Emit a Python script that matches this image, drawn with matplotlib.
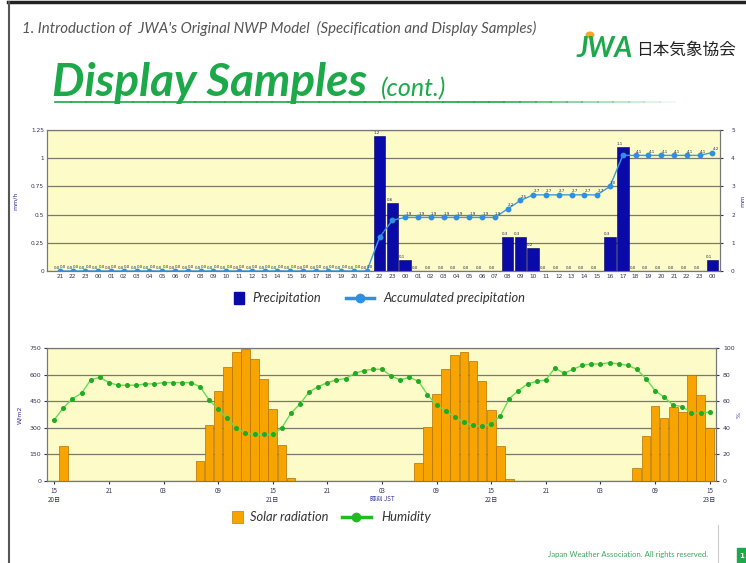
import numpy as np
import matplotlib.pyplot as plt
from matplotlib.patches import Rectangle, Circle
from matplotlib.lines import Line2D

W, H = 746, 563

# --- upper chart: hourly precipitation (mm/h) and accumulated precipitation (mm)
hour_labels = ['21', '22', '23',
               '00', '01', '02', '03', '04', '05', '06', '07', '08', '09', '10', '11',
               '12', '13', '14', '15', '16', '17', '18', '19', '20', '21', '22', '23',
               '00', '01', '02', '03', '04', '05', '06', '07', '08', '09', '10', '11',
               '12', '13', '14', '15', '16', '17', '18', '19', '20', '21', '22', '23',
               '00']
precip = [0.0, 0.0, 0.0, 0.0, 0.0, 0.0, 0.0, 0.0, 0.0, 0.0, 0.0, 0.0, 0.0,
          0.0, 0.0, 0.0, 0.0, 0.0, 0.0, 0.0, 0.0, 0.0, 0.0, 0.0, 0.0,
          1.2, 0.6, 0.1,
          0.0, 0.0, 0.0, 0.0, 0.0, 0.0, 0.0,
          0.3, 0.3, 0.2,
          0.0, 0.0, 0.0, 0.0, 0.0,
          0.3, 1.1,
          0.0, 0.0, 0.0, 0.0, 0.0, 0.0,
          0.1]
accum = [0.0, 0.0, 0.0, 0.0, 0.0, 0.0, 0.0, 0.0, 0.0, 0.0, 0.0, 0.0, 0.0,
         0.0, 0.0, 0.0, 0.0, 0.0, 0.0, 0.0, 0.0, 0.0, 0.0, 0.0, 0.0,
         1.2, 1.8,
         1.9, 1.9, 1.9, 1.9, 1.9, 1.9, 1.9, 1.9,
         2.2, 2.5,
         2.7, 2.7, 2.7, 2.7, 2.7, 2.7,
         3.0,
         4.1, 4.1, 4.1, 4.1, 4.1, 4.1, 4.1,
         4.2]

# --- lower chart: solar radiation (W/m2) and humidity (%) from 15h on the 20th
solar = [0, 200,
         0, 0, 0, 0, 0, 0, 0, 0, 0, 0, 0, 0, 0, 0,
         115, 318, 505, 644, 726, 743, 690, 575, 408, 205, 17,
         0, 0, 0, 0, 0, 0, 0, 0, 0, 0, 0, 0, 0,
         104, 305, 492, 629, 710, 728, 676, 562, 398, 195, 13,
         0, 0, 0, 0, 0, 0, 0, 0, 0, 0, 0, 0, 0,
         75, 256, 422, 357, 419, 389, 600, 486, 299]
humidity = [46, 55, 62, 66, 76, 78, 74, 72, 72, 72, 73, 73, 74, 74, 74, 74,
            71, 61, 54, 47, 40, 36, 35, 35, 35, 40, 51, 58, 67, 71, 74, 76,
            77, 81, 83, 84, 84, 79, 76, 78, 75, 65, 57, 53, 48, 44, 42, 41,
            43, 49, 62, 68, 73, 75, 76, 85, 81, 84, 87, 88, 88, 89, 88, 87,
            84, 77, 68, 63, 57, 56, 51, 51, 52]
time_ticks = [0, 6, 12, 18, 24, 30, 36, 42, 48, 54, 60, 66, 72]
time_labels = ['15\n20日', '21', '03', '09', '15\n21日', '21', '03', '09',
               '15\n22日', '21', '03', '09', '15\n23日']

GREEN = '#1da84a'
PANEL = '#fdfcc9'
GRID = '#7a7a6a'
NAVY = '#0a0aa8'
BLUE = '#2f8fe0'
ORANGE = '#f7a400'
JP = ['Noto Sans CJK JP', 'DejaVu Sans']
LEG = {'family': 'Lato', 'style': 'italic', 'size': 9.3, 'color': '#333333'}


def px(x):
    return x / W


def py(y):
    return 1 - y / H


fig = plt.figure(figsize=(W / 100, H / 100), dpi=100)

# slide decoration
fig.add_artist(Line2D([px(8), px(746)], [py(2), py(2)], color='#222222', lw=2.5))
fig.add_artist(Line2D([px(9), px(9)], [py(2), py(563)], color='#555555', lw=1.5))
fig.text(px(22), py(28), "1. Introduction of  JWA's Original NWP Model  (Specification and Display Samples)",
         fontsize=10.8, style='italic', color='#555555', family='Lato', va='center')
fig.text(px(52), py(96), 'Display Samples', fontsize=33, weight='bold', style='italic',
         color=GREEN, family='Lato', va='baseline')
fig.text(px(381), py(96), '(cont.)', fontsize=18, style='italic', color=GREEN,
         family='Lato', va='baseline')
for i in range(40):
    x0 = 55 + i * 15.5
    a = 1.0 if i < 28 else 1.0 - (i - 28) / 12
    fig.add_artist(Line2D([px(x0), px(x0 + 15.5)], [py(102), py(102)],
                          color=GREEN, lw=1.2, alpha=max(a, 0.05)))
fig.text(px(577), py(49), 'JWA', fontsize=20, weight='bold', style='italic',
         color=GREEN, family='Lato', va='center')
fig.add_artist(Circle((px(590), py(35)), 0.005, color='#f5a623', transform=fig.transFigure))
fig.text(px(636), py(50), '日本気象協会', fontsize=12, color='#222222', family=JP, va='center')
fig.text(px(548), py(555), 'Japan Weather Association. All rights reserved.',
         fontsize=5.6, color='#3aa860', family='Lato', va='center')
fig.add_artist(Line2D([px(718), px(718)], [py(525), py(563)], color='#cccccc', lw=0.8))
fig.add_artist(Rectangle((px(737), 0), px(10), py(548), color=GREEN, transform=fig.transFigure))
fig.text(px(739), py(556), '1', fontsize=5, color='white', weight='bold', va='center')

# ---------- upper chart
ax = fig.add_axes([px(47), py(271), px(720 - 47), (271 - 130) / H])
ax.set_facecolor(PANEL)
x = np.arange(len(precip))
ax.bar(x, precip, width=0.9, color=NAVY, edgecolor='#000060', linewidth=0.4, zorder=3)
ax.set_xlim(-1.0, 51.6)
ax.set_ylim(0, 1.25)
ax.set_yticks([0, 0.25, 0.5, 0.75, 1, 1.25])
ax.set_yticklabels(['0', '0.25', '0.5', '0.75', '1', '1.25'])
ax.set_xticks(x)
ax.set_xticklabels(hour_labels)
ax.yaxis.grid(True, color=GRID, lw=0.9, zorder=1)
ax.set_axisbelow(True)
ax.tick_params(labelsize=4.2, length=0, pad=2, colors='#333355')
ax.set_ylabel('mm/h', fontsize=4.5, color='#333399')
ax.yaxis.set_label_coords(-0.043, 0.5)
for xi, v in zip(x, precip):
    ax.text(xi - 0.24, v + 0.01, '%.1f' % v, fontsize=2.9, ha='center', va='bottom',
            color='#222244', zorder=5)

ax2 = ax.twinx()
ax2.plot(x, accum, color='#3c9be0', lw=1.0, marker='o', markersize=3.2,
         markerfacecolor=BLUE, markeredgecolor=BLUE, zorder=4)
ax2.set_ylim(0, 5)
ax2.set_yticks([0, 1, 2, 3, 4, 5])
ax2.tick_params(labelsize=4.2, length=2, pad=6, colors='#333355')
ax2.set_ylabel('mm', fontsize=4.5, color='#333399')
ax2.yaxis.set_label_coords(1.031, 0.5)
for xi, v in zip(x, accum):
    ax2.text(xi + 0.26, v + 0.06, '%.1f' % v, fontsize=2.9, ha='center', va='bottom',
             color='#222244', zorder=5)
for a in (ax, ax2):
    for s in a.spines.values():
        s.set_color('#777777')
        s.set_linewidth(0.8)

# legend of the upper chart
fig.add_artist(Rectangle((px(234), py(304)), px(10), 12 / H, color=NAVY,
                         transform=fig.transFigure))
fig.text(px(252), py(298), 'Precipitation', va='center', **LEG)
fig.add_artist(Line2D([px(346), px(374)], [py(298), py(298)], color=BLUE, lw=2.5))
fig.add_artist(Line2D([px(360)], [py(298)], color=BLUE, marker='o', markersize=6))
fig.text(px(383), py(298), 'Accumulated precipitation', va='center', **LEG)

# ---------- lower chart
bx = fig.add_axes([px(47), py(481), px(716 - 47), (481 - 348) / H])
bx.set_facecolor(PANEL)
t = np.arange(len(solar))
bx.bar(t, solar, width=0.95, color=ORANGE, edgecolor='#b87000', linewidth=0.5, zorder=3)
bx.set_xlim(-0.8, 72.7)
bx.set_ylim(0, 750)
bx.set_yticks([0, 150, 300, 450, 600, 750])
bx.set_xticks(time_ticks)
bx.set_xticklabels(time_labels, family=JP)
bx.yaxis.grid(True, color=GRID, lw=0.9)
bx.set_axisbelow(True)
bx.tick_params(labelsize=4.5, length=2, pad=2, colors='#333355')
bx.set_ylabel('W/m2', fontsize=4.5, color='#333399')
bx.yaxis.set_label_coords(-0.037, 0.5)
bx.text(36, -0.105, '時刻 JST', transform=bx.get_xaxis_transform(), fontsize=4.5,
        family=JP, color='#333399', ha='center', va='top')

bx2 = bx.twinx()
bx2.plot(t, humidity, color='#66dd55', lw=1.0, marker='o', markersize=2.6,
         markerfacecolor='#22aa22', markeredgecolor='#22aa22', zorder=4)
bx2.set_ylim(0, 100)
bx2.set_yticks([0, 20, 40, 60, 80, 100])
bx2.tick_params(labelsize=4.5, length=2, pad=3, colors='#333355')
bx2.set_ylabel('%', fontsize=4.5, color='#333399')
bx2.yaxis.set_label_coords(1.031, 0.5)
for a in (bx, bx2):
    for s in a.spines.values():
        s.set_color('#777777')
        s.set_linewidth(0.8)

# legend of the lower chart
fig.add_artist(Rectangle((px(232), py(523)), px(11), 12 / H, color=ORANGE, ec='#c08000',
                         lw=0.5, transform=fig.transFigure))
fig.text(px(250), py(517), 'Solar radiation', va='center', **LEG)
fig.add_artist(Line2D([px(342), px(371)], [py(517), py(517)], color='#22bb22', lw=2.5))
fig.add_artist(Line2D([px(356)], [py(517)], color='#22bb22', marker='o', markersize=6))
fig.text(px(381), py(517), 'Humidity', va='center', **LEG)

fig.savefig('out.png', dpi=100)
